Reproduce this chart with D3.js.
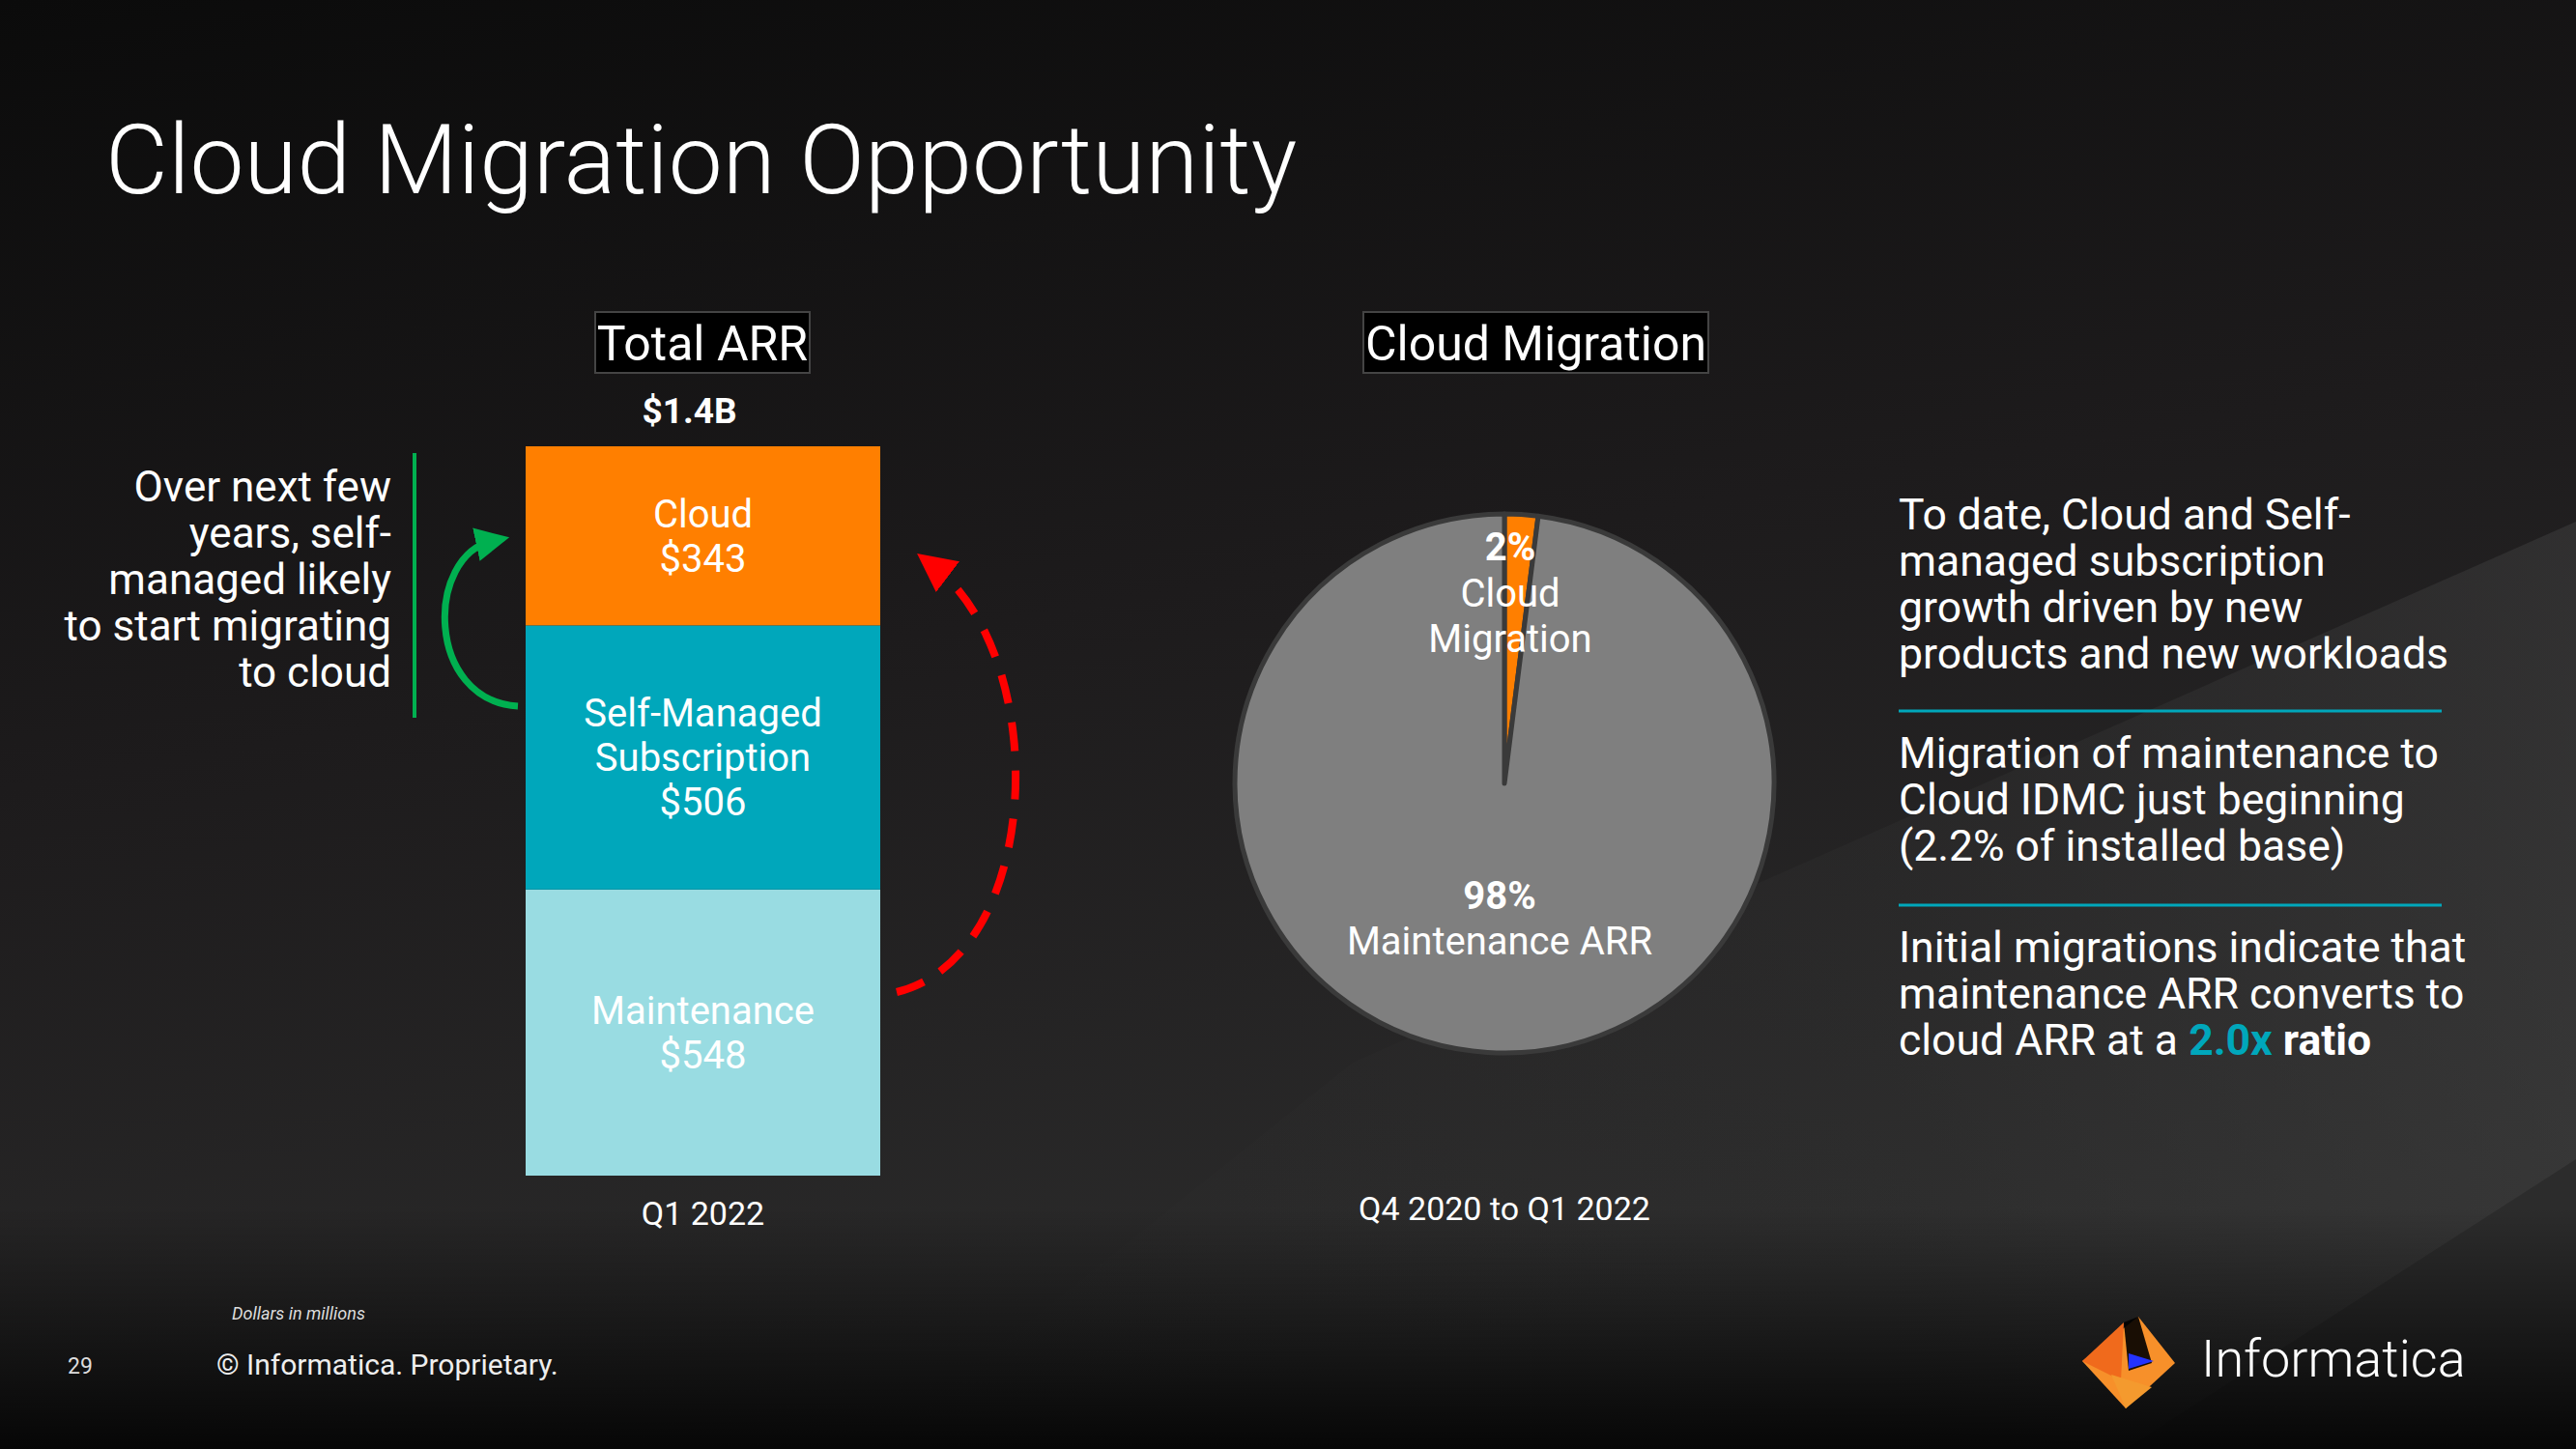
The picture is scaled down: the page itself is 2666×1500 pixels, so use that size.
<!DOCTYPE html>
<html><head><meta charset="utf-8">
<script src="https://cdn.jsdelivr.net/npm/d3@7"></script>
<style>body{margin:0;background:#111;}svg{display:block;font-family:Roboto,"Noto Sans",sans-serif;}</style>
</head><body>
<script>
const segments = ["Maintenance","Self-Managed Subscription","Cloud"];
const segmentValues = [548, 506, 343];
const segmentLabels = [["Maintenance","$548"],["Self-Managed","Subscription","$506"],["Cloud","$343"]];
const segmentColors = ["#99dce2","#00a7bb","#ff7f00"];
const barCategory = ["Q1 2022"];
const totalLabel = "$1.4B";
const pieCategories = ["Cloud Migration","Maintenance ARR"];
const pieValues = [2, 98];
const pieColors = ["#ff7f00","#7f7f7f"];

const W=2666,H=1500;
const svg=d3.select("body").append("svg").attr("width",W).attr("height",H);
const defs=svg.append("defs");
const g1=defs.append("linearGradient").attr("id","bg").attr("x1",0).attr("y1",0).attr("x2",0.3).attr("y2",1);
g1.append("stop").attr("offset",0).attr("stop-color","#0b0b0b");
g1.append("stop").attr("offset",0.5).attr("stop-color","#1d1b1c");
g1.append("stop").attr("offset",1).attr("stop-color","#2c2c2c");
svg.append("rect").attr("width",W).attr("height",H).attr("fill","url(#bg)");
const g2=defs.append("linearGradient").attr("id","band").attr("x1",0).attr("y1",0).attr("x2",1).attr("y2",0);
g2.append("stop").attr("offset",0).attr("stop-color","#333").attr("stop-opacity",0);
g2.append("stop").attr("offset",0.6).attr("stop-color","#333").attr("stop-opacity",0.3);
g2.append("stop").attr("offset",1).attr("stop-color","#444").attr("stop-opacity",0.45);
svg.append("path").attr("d",`M900,1500 L1400,1100 L2666,540 L2666,1200 L2200,1500 Z`).attr("fill","url(#band)");
const g3=defs.append("linearGradient").attr("id","fade").attr("x1",0).attr("y1",0).attr("x2",0).attr("y2",1);
g3.append("stop").attr("offset",0).attr("stop-color","#000").attr("stop-opacity",0);
g3.append("stop").attr("offset",1).attr("stop-color","#000").attr("stop-opacity",0.85);
svg.append("rect").attr("x",0).attr("y",1250).attr("width",W).attr("height",250).attr("fill","url(#fade)");

svg.append("text").attr("x",109).attr("y",200).attr("fill","#fff").attr("font-size",100).attr("font-weight",300).text("Cloud Migration Opportunity");

function boxTitle(x,y,w,h,t){
  svg.append("rect").attr("x",x).attr("y",y).attr("width",w).attr("height",h).attr("fill","#000").attr("stroke","#444").attr("stroke-width",2);
  svg.append("text").attr("x",x+w/2).attr("y",y+h/2+18).attr("text-anchor","middle").attr("fill","#fff").attr("font-size",50).text(t);
}
boxTitle(616,323,222,63,"Total ARR");
boxTitle(1411,323,357,63,"Cloud Migration");

const x=d3.scaleBand().domain(barCategory).range([544,911]).padding(0);
const total=d3.sum(segmentValues);
const y=d3.scaleLinear().domain([0,total]).range([1217,462]);
let cum=0;
const stacks=segmentValues.map((v,i)=>{const s={i,y0:cum,y1:cum+v};cum+=v;return s;});
svg.selectAll("rect.seg").data(stacks).join("rect").attr("class","seg")
  .attr("x",x(barCategory[0])).attr("width",x.bandwidth())
  .attr("y",d=>y(d.y1)).attr("height",d=>y(d.y0)-y(d.y1)).attr("fill",d=>segmentColors[d.i]);
const cx=x(barCategory[0])+x.bandwidth()/2;
stacks.forEach(d=>{
  const lines=segmentLabels[d.i], mid=(y(d.y0)+y(d.y1))/2, lh=46;
  lines.forEach((t,k)=>svg.append("text").attr("x",cx).attr("y",mid+(k-(lines.length-1)/2)*lh+14)
    .attr("text-anchor","middle").attr("fill","#fff").attr("font-size",40).text(t));
});
svg.append("text").attr("x",cx-14).attr("y",y(total)-24).attr("text-anchor","middle").attr("fill","#fff").attr("font-size",37).attr("font-weight",700).text(totalLabel);
svg.append("text").attr("x",cx).attr("y",1268).attr("text-anchor","middle").attr("fill","#fff").attr("font-size",34).text(barCategory[0]);

["Over next few","years, self-","managed likely","to start migrating","to cloud"].forEach((t,k)=>
  svg.append("text").attr("x",405).attr("y",519+k*48).attr("text-anchor","end").attr("fill","#fff").attr("font-size",44).text(t));
svg.append("line").attr("x1",429).attr("x2",429).attr("y1",469).attr("y2",743).attr("stroke","#00b050").attr("stroke-width",4);

defs.append("marker").attr("id","ga").attr("viewBox","0 0 10 10").attr("refX",5).attr("refY",5).attr("markerWidth",5).attr("markerHeight",5).attr("orient","auto")
  .append("path").attr("d","M0,0 L10,5 L0,10 Z").attr("fill","#00b050");
defs.append("marker").attr("id","ra").attr("viewBox","0 0 10 10").attr("refX",5).attr("refY",5).attr("markerWidth",5).attr("markerHeight",5).attr("orient","auto")
  .append("path").attr("d","M0,0 L10,5 L0,10 Z").attr("fill","#ff0000");
svg.append("path").attr("d","M536,731 C440,725 440,575 510,560").attr("fill","none").attr("stroke","#00b050").attr("stroke-width",7).attr("marker-end","url(#ga)");
svg.append("path").attr("d","M928,1027 C1080,990 1090,680 965,585").attr("fill","none").attr("stroke","#ff0000").attr("stroke-width",8).attr("stroke-dasharray","30,20").attr("marker-end","url(#ra)");

const pcx=1557,pcy=811,R=279;
const pie=d3.pie().sort(null).value(d=>d)(pieValues);
const arc=d3.arc().innerRadius(0).outerRadius(R);
const pg=svg.append("g").attr("transform",`translate(${pcx},${pcy})`);
pg.selectAll("path").data(pie).join("path").attr("d",arc).attr("fill",(d,i)=>pieColors[i]).attr("stroke","#3a3a3a").attr("stroke-width",5).attr("stroke-linejoin","round");
[["2%",566,true],["Cloud",614,false],["Migration",661,false]].forEach(([t,yy,b])=>
  svg.append("text").attr("x",1563).attr("y",yy+14).attr("text-anchor","middle").attr("fill","#fff").attr("font-size",40).attr("font-weight",b?700:400).text(t));
[["98%",927,true],["Maintenance ARR",974,false]].forEach(([t,yy,b])=>
  svg.append("text").attr("x",1552).attr("y",yy+14).attr("text-anchor","middle").attr("fill","#fff").attr("font-size",40).attr("font-weight",b?700:400).text(t));
svg.append("text").attr("x",1557).attr("y",1263).attr("text-anchor","middle").attr("fill","#fff").attr("font-size",34).text("Q4 2020 to Q1 2022");

function para(lines,y0){lines.forEach((l,k)=>{const t=svg.append("text").attr("x",1965).attr("y",y0+k*48).attr("fill","#fff").attr("font-size",44.5);
  (Array.isArray(l)?l:[[l]]).forEach(p=>t.append("tspan").text(p[0]).attr("font-weight",p[1]?700:400).attr("fill",p[2]||"#fff"));});}
para(["To date, Cloud and Self-","managed subscription","growth driven by new","products and new workloads"],548);
svg.append("line").attr("x1",1965).attr("x2",2527).attr("y1",736).attr("y2",736).attr("stroke","#00a7bb").attr("stroke-width",3);
para(["Migration of maintenance to","Cloud IDMC just beginning","(2.2% of installed base)"],795);
svg.append("line").attr("x1",1965).attr("x2",2527).attr("y1",937).attr("y2",937).attr("stroke","#00a7bb").attr("stroke-width",3);
para(["Initial migrations indicate that","maintenance ARR converts to",[["cloud ARR at a "],["2.0x",true,"#00a7bb"],[" ratio",true]]],996);

svg.append("text").attr("x",240).attr("y",1366).attr("fill","#ddd").attr("font-size",18).attr("font-style","italic").text("Dollars in millions");
svg.append("text").attr("x",70).attr("y",1422).attr("fill","#ddd").attr("font-size",23).text("29");
svg.append("text").attr("x",224).attr("y",1423).attr("fill","#eee").attr("font-size",30).text("© Informatica. Proprietary.");

const lg=svg.append("g").attr("transform","translate(2205,1411)");
lg.append("path").attr("d","M-50,-2 L8,-48 L46,0 L-5,47 Z").attr("fill","#f7902a");
lg.append("path").attr("d","M-50,-2 L-7,-42 L-10,18 Z").attr("fill","#f06a1c");
lg.append("path").attr("d","M-7,-42 L8,-48 L22,0 L-2,8 Z").attr("fill","#000").attr("opacity",0.9);
lg.append("path").attr("d","M-2,-10 L24,-2 L-2,6 Z").attr("fill","#2433ff");
lg.append("path").attr("d","M-20,12 L22,25 L-5,47 Z").attr("fill","#f49a2e");
svg.append("text").attr("x",2278).attr("y",1425).attr("fill","#fff").attr("font-size",54).attr("font-weight",300).text("Informatica");
</script>
</body></html>
